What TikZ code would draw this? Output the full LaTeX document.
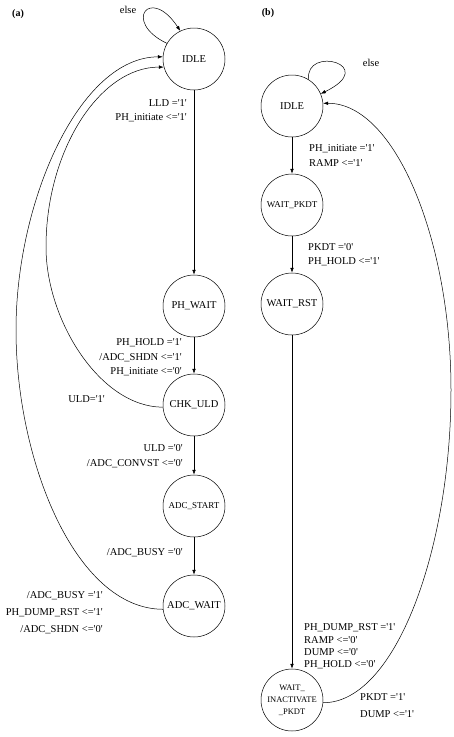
\documentclass[tikz,border=0pt]{standalone}
\usepackage{fontspec}
\setmainfont{Liberation Serif}[Ligatures=TeXOff]
\usetikzlibrary{arrows.meta}
\begin{document}
\begin{tikzpicture}[x=1pt,y=-1pt,
  st/.style={circle,draw,line width=0.5pt,minimum size=62pt,inner sep=0pt,font=\fontsize{10.5}{12}\selectfont},
  sm/.style={st,font=\fontsize{9}{10}\selectfont},
  lbl/.style={inner sep=0pt,font=\fontsize{10.5}{14.5}\selectfont},
  tr/.style={line width=0.5pt,-{Latex[length=5pt,width=3.6pt]}},
  ttl/.style={inner sep=0pt,font=\bfseries\fontsize{10}{12}\selectfont}]
\useasboundingbox (0,0) rectangle (454,737);
\fill[white] (0,0) rectangle (454,737);
% titles
\node[ttl] (ta) at (18,14) {(a)};
\node[ttl] (tb) at (268,13) {(b)};
% (a) states
\node[st] (idleA) at (194,59) {IDLE};
\node[st] (phwait) at (194,306) {PH\_WAIT};
\node[st] (chk) at (194,405) {CHK\_ULD};
\node[sm] (adcstart) at (194,506) {ADC\_START};
\node[st] (adcwait) at (194,606) {ADC\_WAIT};
% (a) transitions
\draw[tr] (idleA.150) .. controls (122,22) and (150,-15) .. (idleA.116);
\draw[tr] (idleA) -- (phwait);
\draw[tr] (phwait) -- (chk);
\draw[tr] (chk) -- (adcstart);
\draw[tr] (adcstart) -- (adcwait);
\draw[tr] (chk.184) .. controls (100,407) and (46,320) .. (46,247)
  .. controls (46,150) and (100,67) .. (idleA.195);
\draw[tr] (adcwait.186) .. controls (75,609) and (16,460) .. (16,330)
  .. controls (16,200) and (80,57) .. (idleA.176);
% (a) labels
\node[lbl] (elseA) at (128,10) {else};
\node[lbl,align=right,anchor=east] (l1) at (187,110.5) {LLD ='1'\\PH\_initiate <='1'};
\node[lbl,align=right,anchor=east] (l2) at (182,357.5) {PH\_HOLD ='1'\\/ADC\_SHDN <='1'\\PH\_initiate <='0'};
\node[lbl,anchor=east] (l3) at (105,399) {ULD='1'};
\node[lbl,align=right,anchor=east] (l4) at (183,456) {ULD ='0'\\/ADC\_CONVST <='0'};
\node[lbl,anchor=east] (l5) at (183,553) {/ADC\_BUSY ='0'};
\node[lbl,align=right,anchor=east,font=\fontsize{10.5}{17}\selectfont] (l6) at (103,613) {/ADC\_BUSY ='1'\\PH\_DUMP\_RST <='1'\\/ADC\_SHDN <='0'};
% (b) states
\node[st] (idleB) at (292,106) {IDLE};
\node[sm] (wpkdt) at (292,205) {WAIT\_PKDT};
\node[st] (wrst) at (292,304) {WAIT\_RST};
\node[st,font=\fontsize{8.5}{12}\selectfont,align=center] (winact) at (292,700) {WAIT\_\\INACTIVATE\\\_PKDT};
% (b) transitions
\draw[tr] (idleB.58) .. controls (305,45) and (380,65) .. (idleB.23);
\draw[tr] (idleB) -- (wpkdt);
\draw[tr] (wpkdt) -- (wrst);
\draw[tr] (wrst) -- (winact);
\draw[tr] (winact.355) .. controls (395,703) and (451,550) .. (451,390)
  .. controls (451,240) and (395,103) .. (idleB.5);
% (b) labels
\node[lbl] (elseB) at (371,63) {else};
\node[lbl,align=left,anchor=west] (r1) at (309,155.5) {PH\_initiate ='1'\\RAMP <='1'};
\node[lbl,align=left,anchor=west] (r2) at (308,254.5) {PKDT ='0'\\PH\_HOLD <='1'};
\node[lbl,align=left,anchor=west,font=\fontsize{10.5}{12.3}\selectfont] (r3) at (304,646.5) {PH\_DUMP\_RST ='1'\\RAMP <='0'\\DUMP <='0'\\PH\_HOLD <='0'};
\node[lbl,align=left,anchor=west,font=\fontsize{10.5}{17}\selectfont] (r4) at (360,705.5) {PKDT ='1'\\DUMP <='1'};
\end{tikzpicture}
\end{document}
